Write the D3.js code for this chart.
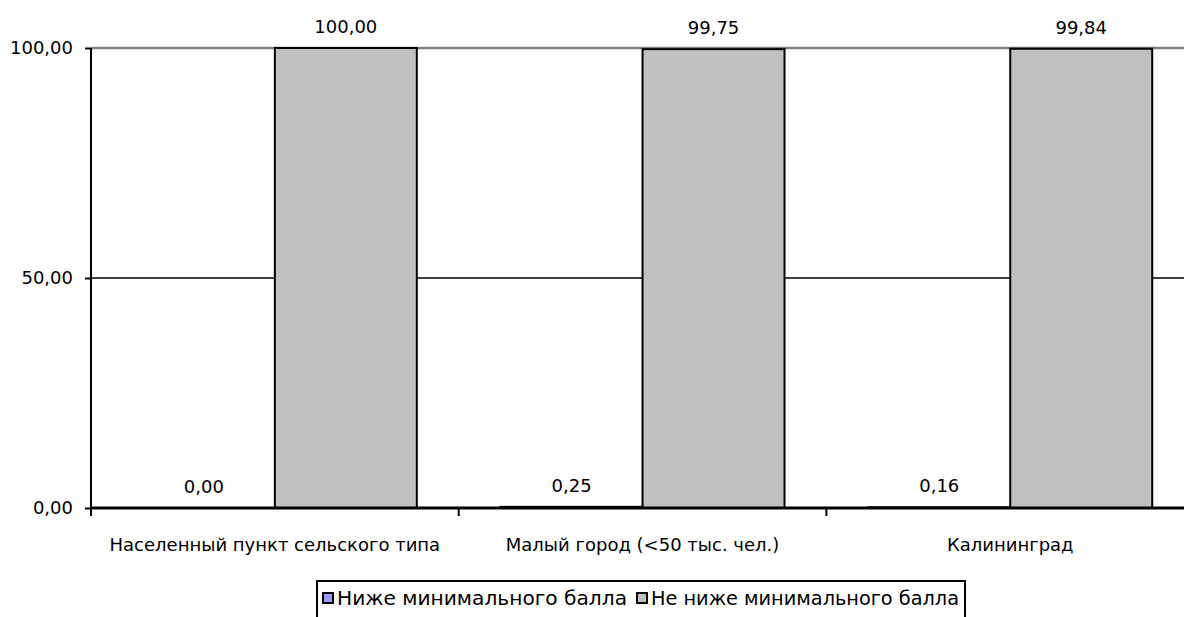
<!DOCTYPE html>
<html>
<head>
<meta charset="utf-8">
<script src="https://cdn.jsdelivr.net/npm/d3@7"></script>
<style>
  body { margin: 0; background: #fff; }
  text { font-family: "DejaVu Sans", sans-serif; font-size: 18px; fill: #000; }
</style>
</head>
<body>
<svg id="chart" width="1184" height="617"></svg>
<script>
// data
const categories = ['Населенный пункт сельского типа', 'Малый город (<50 тыс. чел.)', 'Калининград'];
const seriesNames = ['Ниже минимального балла', 'Не ниже минимального балла'];
const below = [0.00, 0.25, 0.16];
const notBelow = [100.00, 99.75, 99.84];
const yTicks = [0, 50, 100];
const colors = ['#9999ff', '#c0c0c0'];

const svg = d3.select('#chart');
const plotLeft = 91, plotTop = 48, plotBottom = 508;
const catWidth = 367.7;

const x = d3.scaleBand()
  .domain(categories)
  .range([plotLeft, plotLeft + catWidth * categories.length])
  .paddingInner(0)
  .paddingOuter(0);

const xSeries = d3.scaleBand()
  .domain(seriesNames)
  .range([0, x.bandwidth()])
  .paddingInner(0)
  .paddingOuter(0.295);

const y = d3.scaleLinear().domain([0, 100]).range([plotBottom, plotTop]);
const fmt = d => d.toFixed(2).replace('.', ',');

// gridlines
svg.append('g').selectAll('line')
  .data(yTicks.filter(d => d > 0))
  .join('line')
  .attr('x1', plotLeft).attr('x2', 1184)
  .attr('y1', d => y(d)).attr('y2', d => y(d))
  .attr('stroke', d => d === 100 ? '#808080' : '#000')
  .attr('stroke-width', d => d === 100 ? 2.5 : 1.5);

const rows = categories.map((c, i) => ({ cat: c, vals: [below[i], notBelow[i]] }));

const groups = svg.append('g').selectAll('g')
  .data(rows)
  .join('g')
  .attr('transform', d => `translate(${x(d.cat)},0)`);

groups.selectAll('rect')
  .data(d => d.vals.map((v, j) => ({ name: seriesNames[j], v, j })))
  .join('rect')
  .attr('x', d => xSeries(d.name))
  .attr('width', xSeries.bandwidth())
  .attr('y', d => y(d.v))
  .attr('height', d => y(0) - y(d.v))
  .attr('fill', d => colors[d.j])
  .attr('stroke', '#000')
  .attr('stroke-width', 2);

groups.selectAll('text.val')
  .data(d => d.vals.map((v, j) => ({ name: seriesNames[j], v, j })))
  .join('text')
  .attr('class', 'val')
  .attr('x', d => xSeries(d.name) + xSeries.bandwidth() / 2)
  .attr('y', d => y(d.v) - 15)
  .attr('text-anchor', 'middle')
  .text(d => fmt(d.v));

// y axis
const yAxis = svg.append('g')
  .attr('transform', `translate(${plotLeft},0)`)
  .call(d3.axisLeft(y).tickValues(yTicks).tickFormat(fmt).tickSize(6).tickPadding(12));
yAxis.select('.domain').remove();
yAxis.append('line').attr('x1', 0).attr('x2', 0).attr('y1', plotTop).attr('y2', plotBottom + 8)
  .attr('stroke', '#000').attr('stroke-width', 2);
yAxis.selectAll('.tick line').attr('stroke', '#000').attr('stroke-width', 2);
yAxis.selectAll('.tick text')
  .style('font-size', '18px')
  .style('font-family', '"DejaVu Sans", sans-serif')
  .attr('fill', '#000');

// x axis
const xAxis = svg.append('g')
  .attr('transform', `translate(0,${plotBottom})`);
xAxis.append('line').attr('x1', plotLeft).attr('x2', 1184).attr('y1', 0).attr('y2', 0)
  .attr('stroke', '#000').attr('stroke-width', 3);
xAxis.selectAll('line.tk')
  .data(categories.slice(1))
  .join('line')
  .attr('class', 'tk')
  .attr('x1', d => x(d)).attr('x2', d => x(d))
  .attr('y1', 0).attr('y2', 8)
  .attr('stroke', '#000').attr('stroke-width', 2);
xAxis.selectAll('text')
  .data(categories)
  .join('text')
  .attr('x', d => x(d) + x.bandwidth() / 2)
  .attr('y', 43)
  .attr('text-anchor', 'middle')
  .text(d => d);

// legend
const legend = svg.append('g').attr('transform', 'translate(317,581)');
legend.append('rect')
  .attr('x', 0).attr('y', 0).attr('width', 648).attr('height', 50)
  .attr('fill', '#fff').attr('stroke', '#000').attr('stroke-width', 2);
const legendX = [6, 320];
const legendLen = [290, 308];
seriesNames.forEach((n, i) => {
  legend.append('rect')
    .attr('x', legendX[i]).attr('y', 12).attr('width', 10).attr('height', 10)
    .attr('fill', colors[i]).attr('stroke', '#000').attr('stroke-width', 2);
  legend.append('text')
    .attr('x', legendX[i] + 14).attr('y', 24)
    .attr('textLength', legendLen[i])
    .attr('lengthAdjust', 'spacingAndGlyphs')
    .style('font-size', '19px')
    .text(n);
});
</script>
</body>
</html>
